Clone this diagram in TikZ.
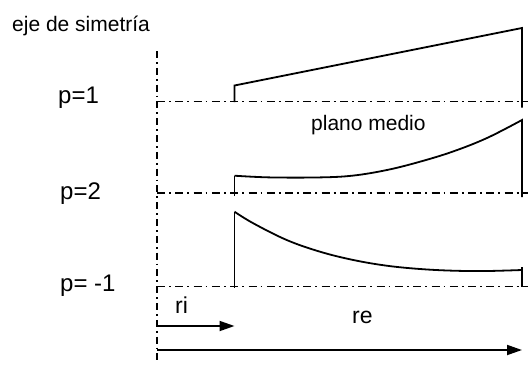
\documentclass[tikz,border=0pt]{standalone}
\usepackage{fontspec}
\setmainfont{Liberation Sans}
\usetikzlibrary{arrows.meta}
\begin{document}
\begin{tikzpicture}[x=1pt,y=-1pt,
  lbl/.style={inner sep=0pt, anchor=base west, font=\fontsize{21}{25}\selectfont},
  plbl/.style={lbl, font=\fontsize{24}{28}\selectfont},
  rlbl/.style={lbl, font=\fontsize{23}{27}\selectfont},
  axisline/.style={line width=1.4pt, dash pattern=on 7pt off 4pt on 1.8pt off 4pt},
  midline/.style={line width=1.4pt, dash pattern=on 8pt off 4pt on 1.8pt off 4.5pt},
  prof/.style={line width=1.8pt, line join=miter},
  dimarrow/.style={line width=1.8pt, -{Triangle[length=15pt,width=10pt]}}]
\useasboundingbox (0,0) rectangle (531,365);

% labels
\node[lbl] (eje) at (12,31) {eje de simetría};
\node[plbl] (p1) at (58,103) {p=1};
\node[plbl] (p2) at (60,199) {p=2};
\node[plbl] (pm1) at (60,291) {p= -1};
\node[lbl] (plano) at (311,130.5) {plano medio};
\node[rlbl] (ri) at (175,313) {ri};
\node[rlbl] (re) at (352,323) {re};

% coordinates
\coordinate (axtop) at (157,51);
\coordinate (axbot) at (157,361);
\coordinate (l1a) at (157,101.5);
\coordinate (l1b) at (528,101.5);
\coordinate (l2a) at (157,193);
\coordinate (l2b) at (528,193);
\coordinate (l3a) at (157,286.5);
\coordinate (l3b) at (528,286.5);

% axis and mid-planes
\draw[axisline] (axtop) -- (axbot);
\draw[midline] (l1a) -- (l1b);
\draw[midline] (l2a) -- (l2b);
\draw[midline] (l3a) -- (l3b);

% p = 1 profile
\coordinate (a1) at (234.5,102);
\coordinate (b1) at (234.5,85.5);
\coordinate (c1) at (522,28);
\coordinate (d1) at (522,107.5);
\draw[prof] (a1) -- (b1) -- (c1) -- (d1);

% p = 2 profile
\coordinate (a2) at (234.5,196);
\coordinate (b2) at (234.5,175.7);
\coordinate (c2) at (522,120);
\coordinate (d2) at (522,197);
\draw[prof] (a2) -- (b2);
\draw[prof] plot[smooth, tension=0.6] coordinates {(234.5,175.7) (270,177.4) (320,177.4) (353,175.6) (387,170) (420,161.7) (453,151.5) (487,138) (522,120)} -- (d2);

% p = -1 profile
\coordinate (a3) at (234.5,287.5);
\coordinate (b3) at (234.5,211.7);
\coordinate (d3) at (522,287);
\coordinate (e3) at (522,267);
\draw[prof] (a3) -- (b3);
\draw[prof] plot[smooth, tension=0.6] coordinates {(234.5,211.7) (253.3,223.3) (286.7,240) (320,251.7) (353.3,260) (386.7,265.7) (420,269) (453.3,270.7) (486.7,271) (522,270)};
\draw[prof] (e3) -- (d3);

% dimension arrows
\coordinate (ri0) at (157,326);
\coordinate (ri1) at (234.5,326);
\coordinate (re0) at (157,350);
\coordinate (re1) at (522,350);
\draw[dimarrow] (ri0) -- (ri1);
\draw[dimarrow] (re0) -- (re1);
\end{tikzpicture}
\end{document}
